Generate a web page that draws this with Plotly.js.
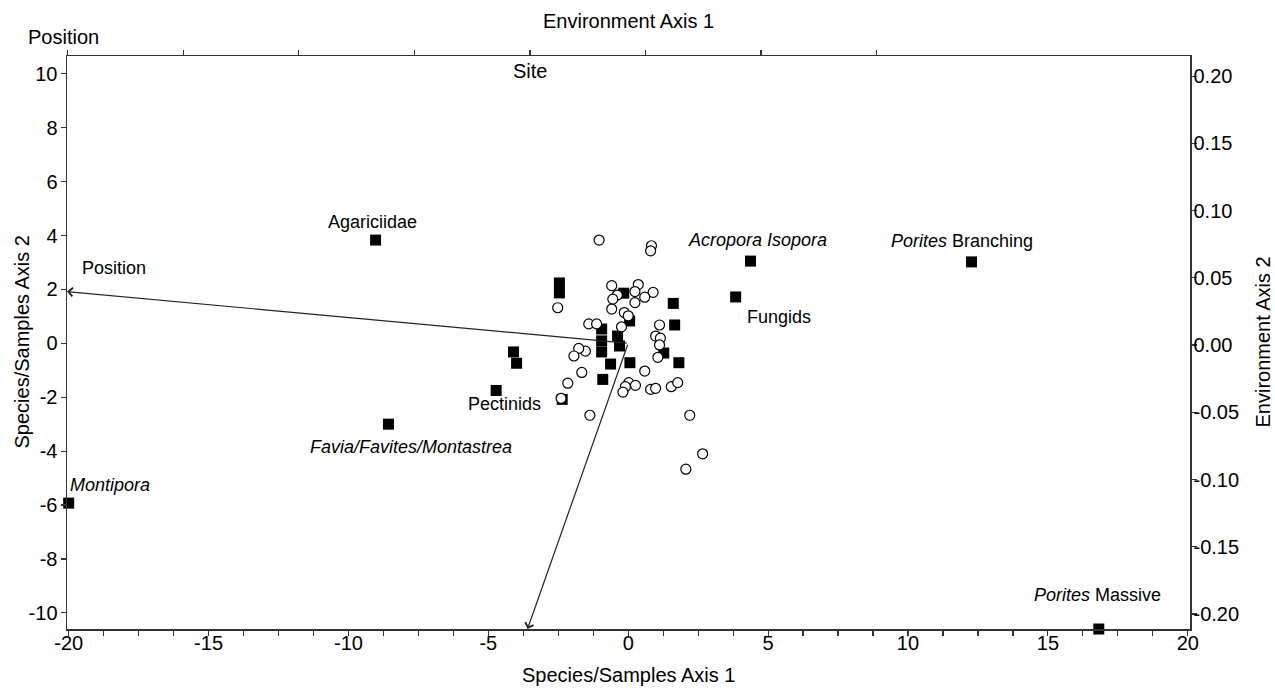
<!DOCTYPE html>
<html>
<head>
<meta charset="utf-8">
<script src="https://cdn.plot.ly/plotly-3.0.1.min.js"></script>
<style>
html,body{margin:0;padding:0;background:#fff;}
#chart{width:1275px;height:691px;}
</style>
</head>
<body>
<div id="chart"></div>
<script>
// ---------- DATA ----------
// Labelled species scores (Species/Samples Axis 1 & 2)
const speciesLabels = ["Agariciidae", "<i>Acropora Isopora</i>", "<i>Porites</i> Branching", "Fungids",
  "Pectinids", "<i>Favia/Favites/Montastrea</i>", "<i>Montipora</i>", "<i>Porites</i> Massive"];
const speciesX = [-9.03, 4.37, 12.27, 3.84, -4.72, -8.57, -20.0, 16.82];
const speciesY = [3.83, 3.05, 3.02, 1.72, -1.75, -3.00, -5.93, -10.6];

// Unlabelled species scores (cluster near origin)
const otherSpeciesX = [-2.46, -2.46, -0.16, 1.61, 1.66, -0.95, -0.95, -0.95, -0.38, -0.31, 0.05, -0.63, 0.06, 1.81, 1.27, -0.91, -2.36, -4.10, -3.99];
const otherSpeciesY = [2.24, 1.87, 1.86, 1.48, 0.68, 0.53, 0.09, -0.32, 0.27, -0.10, 0.83, -0.77, -0.72, -0.72, -0.36, -1.34, -2.08, -0.32, -0.74];

// Sample scores (open circles)
const sampleX = [-1.04, 0.83, 0.80, -2.52, -0.59, -0.39, 0.36, 0.24, 0.89, 0.59, -0.55, 0.24, -0.59, -0.14, 0.00,
  -1.41, -1.13, -0.24, 1.12, 0.98, 1.15, 1.12, -1.53, -1.77, -1.94, -1.66, -2.16, -2.40, -1.37, 0.59,
  0.02, 0.26, -0.10, -0.19, 0.80, 0.98, 1.54, 1.77, 1.06, 2.20, 2.66, 2.06];
const sampleY = [3.83, 3.62, 3.43, 1.32, 2.14, 1.79, 2.18, 1.92, 1.89, 1.71, 1.64, 1.51, 1.27, 1.14, 1.02,
  0.72, 0.72, 0.61, 0.68, 0.27, 0.19, -0.06, -0.29, -0.19, -0.47, -1.08, -1.48, -2.04, -2.67, -1.03,
  -1.46, -1.56, -1.61, -1.81, -1.71, -1.67, -1.61, -1.46, -0.52, -2.67, -4.10, -4.67];

// Environmental variable arrows (tips, in species/samples axis units, from origin)
const envNames = ["Position", "Site"];
const envTipX = [-20.06, -3.60];
const envTipY = [1.92, -10.6];

// Axis ticks
const xTickVals = [-20, -15, -10, -5, 0, 5, 10, 15, 20];
const xTickLabels = ["-20", "-15", "-10", "-5", "0", "5", "10", "15", "20"];
const yTickVals = [-10, -8, -6, -4, -2, 0, 2, 4, 6, 8, 10];
const yTickLabels = ["-10", "-8", "-6", "-4", "-2", "0", "2", "4", "6", "8", "10"];
const envYTickVals = [-0.2, -0.15, -0.1, -0.05, 0, 0.05, 0.1, 0.15, 0.2];
const envYTickLabels = ["-0.20", "-0.15", "-0.10", "-0.05", "0.00", "0.05", "0.10", "0.15", "0.20"];
const envXTickVals = [-0.25, -0.2, -0.15, -0.1, -0.05, 0, 0.05, 0.1];

// ---------- STYLE ----------
const FONT = "Liberation Sans, Arial, sans-serif";
const axisColor = "#333333";
// label offsets (px) relative to each labelled species point
const labelShift = [[-3, 18], [7, 21], [-10, 21], [43, -20], [8, -14], [23, -23], [41, 18], [-1, 34]];

const traces = [
  {
    type: "scatter", mode: "markers", x: otherSpeciesX, y: otherSpeciesY,
    marker: {symbol: "square", size: 11, color: "#000"}, cliponaxis: false, hoverinfo: "skip"
  },
  {
    type: "scatter", mode: "markers", x: speciesX, y: speciesY,
    marker: {symbol: "square", size: 11, color: "#000"}, cliponaxis: false, hoverinfo: "skip"
  },
  {
    type: "scatter", mode: "markers", x: sampleX, y: sampleY,
    marker: {symbol: "circle", size: 10, color: "#fff", line: {color: "#000", width: 1.2}},
    cliponaxis: false, hoverinfo: "skip"
  },
  { type: "scatter", mode: "markers", x: [], y: [], xaxis: "x2", yaxis: "y2", hoverinfo: "skip" }
];

const annotations = [];
speciesLabels.forEach((t, i) => {
  annotations.push({
    x: speciesX[i], y: speciesY[i], xref: "x", yref: "y", text: t, showarrow: false,
    xanchor: "center", yanchor: "middle", xshift: labelShift[i][0], yshift: labelShift[i][1],
    font: {family: FONT, size: 18, color: "#000"}
  });
});
envNames.forEach((n, i) => {
  annotations.push({
    x: envTipX[i], y: envTipY[i], xref: "x", yref: "y", axref: "x", ayref: "y", ax: 0, ay: 0,
    text: "", showarrow: true, arrowhead: 4, arrowsize: 1.4, arrowwidth: 1.2, arrowcolor: "#222", standoff: 0
  });
  // biplot label at the top axis
  annotations.push({
    x: envTipX[i], xref: "x", y: 1, yref: "paper", text: n, showarrow: false,
    xanchor: "center", yanchor: "middle", xshift: i === 0 ? -4 : 2, yshift: i === 0 ? 19 : -15,
    font: {family: FONT, size: 20, color: "#000"}
  });
});
// "Position" label beside its arrow tip
annotations.push({
  x: envTipX[0], y: envTipY[0], xref: "x", yref: "y", text: envNames[0], showarrow: false,
  xanchor: "center", yanchor: "middle", xshift: 47, yshift: 24,
  font: {family: FONT, size: 18, color: "#000"}
});
// axis titles
annotations.push({x: 0.5, y: 1, xref: "paper", yref: "paper", text: "Environment Axis 1", showarrow: false,
  xanchor: "center", yanchor: "middle", yshift: 35, font: {family: FONT, size: 20, color: "#000"}});
annotations.push({x: 0.5, y: 0, xref: "paper", yref: "paper", text: "Species/Samples Axis 1", showarrow: false,
  xanchor: "center", yanchor: "middle", yshift: -46, font: {family: FONT, size: 20, color: "#000"}});
annotations.push({x: 0, y: 0.5, xref: "paper", yref: "paper", text: "Species/Samples Axis 2", showarrow: false,
  textangle: -90, xanchor: "center", yanchor: "middle", xshift: -46, font: {family: FONT, size: 20, color: "#000"}});
annotations.push({x: 1, y: 0.5, xref: "paper", yref: "paper", text: "Environment Axis 2", showarrow: false,
  textangle: -90, xanchor: "center", yanchor: "middle", xshift: 72, font: {family: FONT, size: 20, color: "#000"}});

const common = {
  showgrid: false, zeroline: false, showline: true, linecolor: axisColor, linewidth: 1.5,
  ticks: "outside", ticklen: 5, tickwidth: 1.2, tickcolor: axisColor,
  tickfont: {family: FONT, size: 20, color: "#000"}
};

const layout = {
  width: 1275, height: 691,
  margin: {l: 67, r: 85, t: 56, b: 62, pad: 0},
  paper_bgcolor: "#fff", plot_bgcolor: "#fff",
  showlegend: false, hovermode: false,
  font: {family: FONT, size: 20, color: "#000"},
  xaxis: Object.assign({}, common, {
    range: [-20.06, 20.08], tickmode: "array", tickvals: xTickVals, ticktext: xTickLabels,
    ticklabelstandoff: -10,
    minor: {tickmode: "linear", tick0: 0, dtick: 1.25, ticks: "outside", ticklen: 5, tickwidth: 1.2, tickcolor: axisColor, showgrid: false}
  }),
  xaxis2: Object.assign({}, common, {
    overlaying: "x", side: "top", anchor: "y", range: [-0.2503, 0.2356],
    tickmode: "array", tickvals: envXTickVals, showticklabels: false
  }),
  yaxis: Object.assign({}, common, {
    range: [-10.6, 10.66], tickmode: "array", tickvals: yTickVals, ticktext: yTickLabels,
    ticklabelstandoff: -1
  }),
  yaxis2: Object.assign({}, common, {
    overlaying: "y", side: "right", anchor: "x", range: [-0.2112, 0.215],
    tickmode: "array", tickvals: envYTickVals, ticktext: envYTickLabels,
    ticklabelstandoff: -7
  }),
  annotations: annotations
};

Plotly.newPlot("chart", traces, layout, {displayModeBar: false, staticPlot: true});
</script>
</body>
</html>
